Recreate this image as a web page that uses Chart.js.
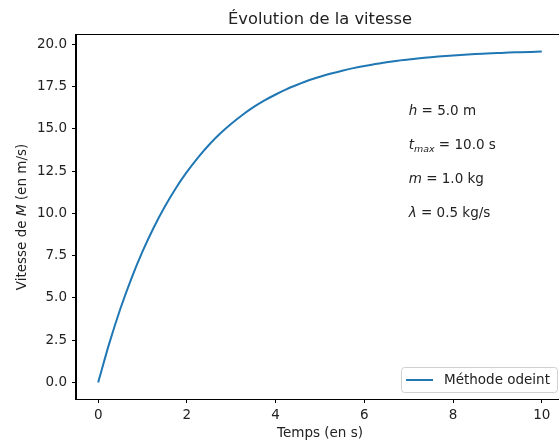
<!DOCTYPE html>
<html>
<head>
<meta charset="utf-8">
<script src="https://cdn.jsdelivr.net/npm/chart.js@4"></script>
<style>
  html, body { margin: 0; padding: 0; background: #fff; overflow: hidden; }
  #wrap { width: 559px; height: 441px; overflow: hidden; }
</style>
</head>
<body>
<div id="wrap"><canvas id="chart" width="600" height="441"></canvas></div>
<script>
// temps (s) et vitesse (m/s)
const temps = [0, 0.25, 0.5, 0.75, 1, 1.25, 1.5, 1.75, 2, 2.25, 2.5, 2.75, 3, 3.25, 3.5, 3.75,
               4, 4.25, 4.5, 4.75, 5, 5.25, 5.5, 5.75, 6, 6.25, 6.5, 6.75, 7, 7.25, 7.5, 7.75,
               8, 8.25, 8.5, 8.75, 9, 9.25, 9.5, 9.75, 10];
const vitesse = [0, 2.31, 4.36, 6.16, 7.75, 9.15, 10.39, 11.49, 12.45, 13.30, 14.06, 14.72,
                 15.30, 15.82, 16.28, 16.68, 17.03, 17.35, 17.62, 17.87, 18.08, 18.27, 18.44,
                 18.59, 18.72, 18.83, 18.94, 19.03, 19.10, 19.18, 19.24, 19.29, 19.34, 19.38,
                 19.42, 19.45, 19.48, 19.51, 19.53, 19.55, 19.57];
const xTicks = [0, 2, 4, 6, 8, 10];
const yTicks = [0, 2.5, 5, 7.5, 10, 12.5, 15, 17.5, 20];

// paramètres affichés dans le graphe : [x, y, morceaux]
const annotations = [
    [7, 16, [['h', 'i'], [' = 5.0 m', '']]],
    [7, 14, [['t', 'i'], ['max', 'is'], [' = 10.0 s', '']]],
    [7, 12, [['m', 'i'], [' = 1.0 kg', '']]],
    [7, 10, [['λ', 'i'], [' = 0.5 kg/s', '']]]
];

const FONT = '"DejaVu Sans", sans-serif';
const BLUE = '#1f77b4';
const FS = 13.5;

function drawRuns(ctx, x, y, runs, size) {
    ctx.textBaseline = 'middle';
    ctx.textAlign = 'left';
    runs.forEach(([txt, style]) => {
        const italic = style.includes('i');
        const sub = style.includes('s');
        const s = sub ? size * 0.7 : size;
        ctx.font = (italic ? 'italic ' : '') + s + 'px ' + FONT;
        ctx.fillText(txt, x, sub ? y + size * 0.25 : y);
        x += ctx.measureText(txt).width;
    });
}

const decor = {
    id: 'decor',
    afterDraw(chart) {
        const ctx = chart.ctx;
        const a = chart.chartArea;
        const xs = chart.scales.x, ys = chart.scales.y;
        ctx.save();
        ctx.strokeStyle = '#000';
        ctx.lineWidth = 1;
        ctx.strokeRect(Math.round(a.left) - 0.5, Math.round(a.top) - 0.5,
                       Math.round(a.right - a.left) + 1, Math.round(a.bottom - a.top) + 1);

        ctx.fillStyle = '#222';
        ctx.font = '16.3px ' + FONT;
        ctx.textAlign = 'center';
        ctx.textBaseline = 'middle';
        const cx = (a.left + a.right) / 2;
        ctx.fillText('Évolution de la vitesse', cx, 20);

        ctx.font = FS + 'px ' + FONT;
        ctx.fillText('Temps (en s)', cx, 433);

        // titre de l'axe y
        ctx.save();
        ctx.translate(22, (a.top + a.bottom) / 2);
        ctx.rotate(-Math.PI / 2);
        const parts = [['Vitesse de ', ''], ['M', 'i'], [' (en m/s)', '']];
        let w = 0;
        parts.forEach(([t, s]) => {
            ctx.font = (s ? 'italic ' : '') + FS + 'px ' + FONT;
            w += ctx.measureText(t).width;
        });
        drawRuns(ctx, -w / 2, 0, parts, FS);
        ctx.restore();

        ctx.fillStyle = '#222';
        annotations.forEach(([x, y, runs]) => {
            drawRuns(ctx, xs.getPixelForValue(x), ys.getPixelForValue(y), runs, FS);
        });

        // légende
        const lx = 401, ly = 367, lw = 156, lh = 25;
        ctx.beginPath();
        ctx.roundRect(lx + 0.5, ly + 0.5, lw, lh, 3);
        ctx.fillStyle = 'rgba(255,255,255,0.8)';
        ctx.fill();
        ctx.strokeStyle = '#d0d0d0';
        ctx.lineWidth = 1;
        ctx.stroke();
        ctx.beginPath();
        ctx.moveTo(406, ly + lh / 2 + 0.5);
        ctx.lineTo(433, ly + lh / 2 + 0.5);
        ctx.strokeStyle = BLUE;
        ctx.lineWidth = 2;
        ctx.stroke();
        ctx.fillStyle = '#222';
        ctx.font = FS + 'px ' + FONT;
        ctx.textAlign = 'left';
        ctx.fillText('Méthode odeint', 444, ly + lh / 2 + 1);
        ctx.restore();
    }
};

const ctx = document.getElementById('chart').getContext('2d');
const chart = new Chart(ctx, {
    type: 'line',
    data: {
        datasets: [{
            label: 'Méthode odeint',
            data: temps.map((t, i) => ({ x: t, y: vitesse[i] })),
            borderColor: BLUE,
            borderWidth: 2,
            pointRadius: 0,
            fill: false,
            cubicInterpolationMode: 'monotone'
        }]
    },
    options: {
        responsive: false,
        animation: false,
        devicePixelRatio: 1,
        layout: { padding: { left: 0, top: 35, right: 36, bottom: 0 } },
        plugins: { legend: { display: false }, title: { display: false }, tooltip: { enabled: false } },
        scales: {
            x: {
                type: 'linear',
                min: -0.5,
                max: 10.5,
                afterBuildTicks: s => { s.ticks = xTicks.map(v => ({ value: v })); },
                afterFit: s => { s.height = 42; },
                grid: { drawOnChartArea: false, drawTicks: true, tickLength: 4, color: '#000' },
                border: { color: '#000' },
                ticks: { color: '#222', padding: 4, font: { family: FONT, size: FS },
                         maxRotation: 0, callback: v => String(v) }
            },
            y: {
                type: 'linear',
                min: -0.98,
                max: 20.55,
                afterBuildTicks: s => { s.ticks = yTicks.map(v => ({ value: v })); },
                afterFit: s => { s.width = 76; },
                grid: { drawOnChartArea: false, drawTicks: true, tickLength: 4, color: '#000' },
                border: { color: '#000' },
                ticks: { color: '#222', padding: 5, font: { family: FONT, size: FS },
                         callback: v => v.toFixed(1) }
            }
        }
    },
    plugins: [decor]
});
</script>
</body>
</html>
